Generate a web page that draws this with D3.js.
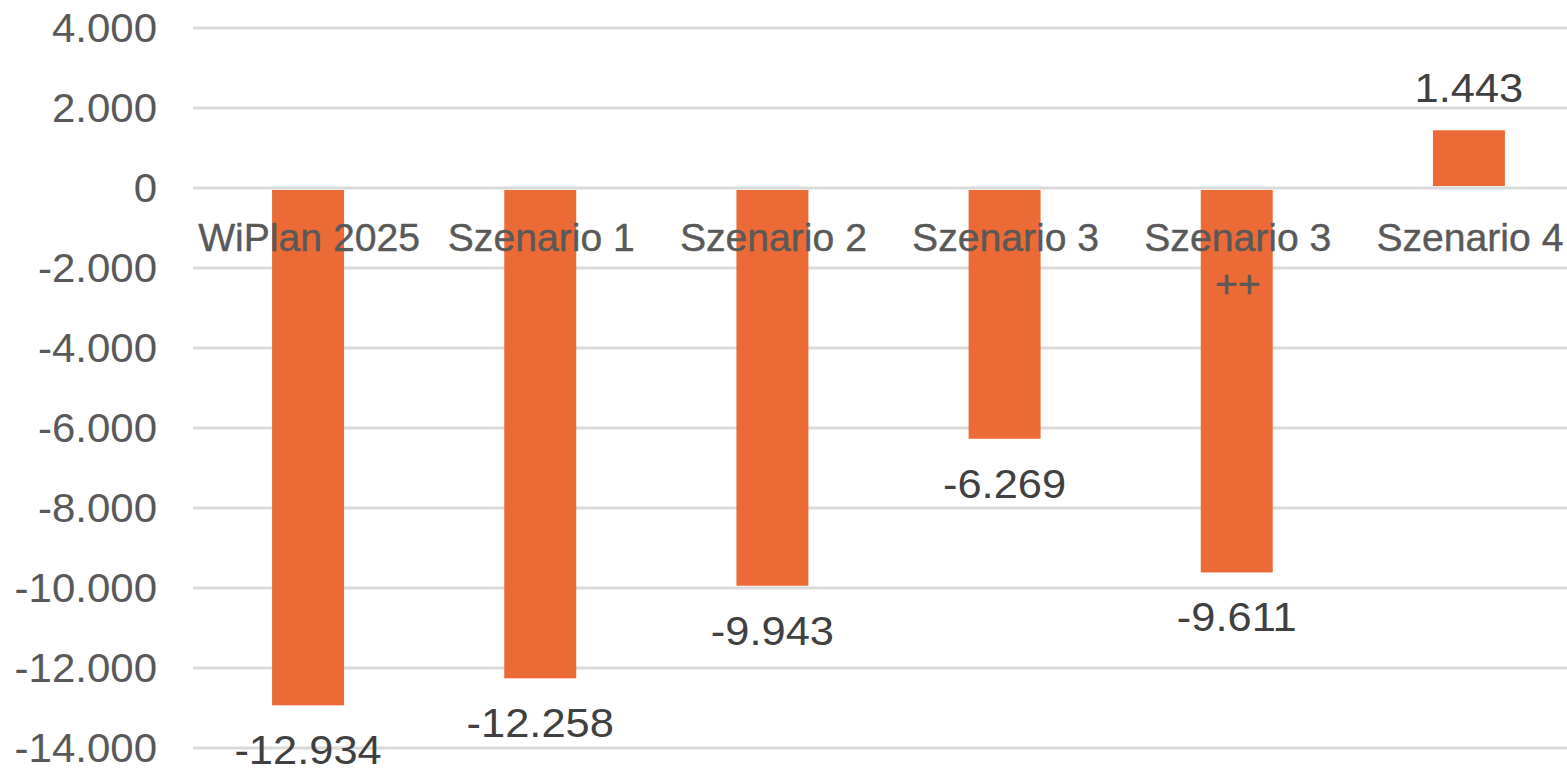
<!DOCTYPE html>
<html>
<head>
<meta charset="utf-8">
<script src="https://cdn.jsdelivr.net/npm/d3@7"></script>
<style>
  html, body { margin: 0; padding: 0; background: #ffffff; }
  svg { display: block; }
  text { font-family: "Liberation Sans", Arial, sans-serif; }
</style>
</head>
<body>
<svg id="chart" width="1567" height="768"></svg>
<script>
const categories = ["WiPlan 2025", "Szenario 1", "Szenario 2", "Szenario 3", "Szenario 3 ++", "Szenario 4"];
const categoryLines = [["WiPlan 2025"], ["Szenario 1"], ["Szenario 2"], ["Szenario 3"], ["Szenario 3", "++"], ["Szenario 4"]];
const values = [-12934, -12258, -9943, -6269, -9611, 1443];
const tickValues = [4000, 2000, 0, -2000, -4000, -6000, -8000, -10000, -12000, -14000];

const fmt = v => d3.format(",")(v).replace(/,/g, ".").replace("−", "-");

const svg = d3.select("#chart");
const W = 1567;

const x = d3.scaleBand().domain(categories).range([192, 1585]).paddingInner(0.69).paddingOuter(0.345);
const y = d3.scaleLinear().domain([-14000, 4000]).range([748, 28]);

// gridlines
svg.append("g").selectAll("line").data(tickValues).join("line")
  .attr("x1", 193).attr("x2", W)
  .attr("y1", d => y(d)).attr("y2", d => y(d))
  .attr("stroke", "#d9d9d9").attr("stroke-width", 3);

// y tick labels
svg.append("g").selectAll("text").data(tickValues).join("text")
  .attr("transform", d => `translate(157,${y(d)}) scale(1.05,1)`)
  .attr("text-anchor", "end").attr("dominant-baseline", "central")
  .attr("font-size", 40).attr("fill", "#595959")
  .text(d => fmt(d));

// bars
svg.append("g").selectAll("rect").data(values).join("rect")
  .attr("x", (d, i) => x(categories[i]))
  .attr("width", x.bandwidth())
  .attr("y", d => Math.min(y(d), y(0)) + (d < 0 ? 2 : 0))
  .attr("height", d => Math.abs(y(d) - y(0)) - 2)
  .attr("fill", "#eb6a35");

// category labels
const cat = svg.append("g").selectAll("text").data(categoryLines).join("text")
  .attr("transform", (d, i) => `translate(${x(categories[i]) + x.bandwidth() / 2 + 1},251) scale(1.03,1)`)
  .attr("text-anchor", "middle")
  .attr("font-size", 38).attr("fill", "#595959")
  .attr("stroke", "#595959").attr("stroke-width", 0.4);
cat.selectAll("tspan").data(d => d).join("tspan")
  .attr("x", 0).attr("dy", (d, j) => j === 0 ? 0 : 46)
  .text(d => d);

// data labels
svg.append("g").selectAll("text").data(values).join("text")
  .attr("transform", (d, i) => `translate(${x(categories[i]) + x.bandwidth() / 2},${d < 0 ? y(d) + 59 : y(d) - 28}) scale(1.06,1)`)
  .attr("text-anchor", "middle")
  .attr("font-size", 41).attr("fill", "#404040")
  .text(d => fmt(d));
</script>
</body>
</html>
